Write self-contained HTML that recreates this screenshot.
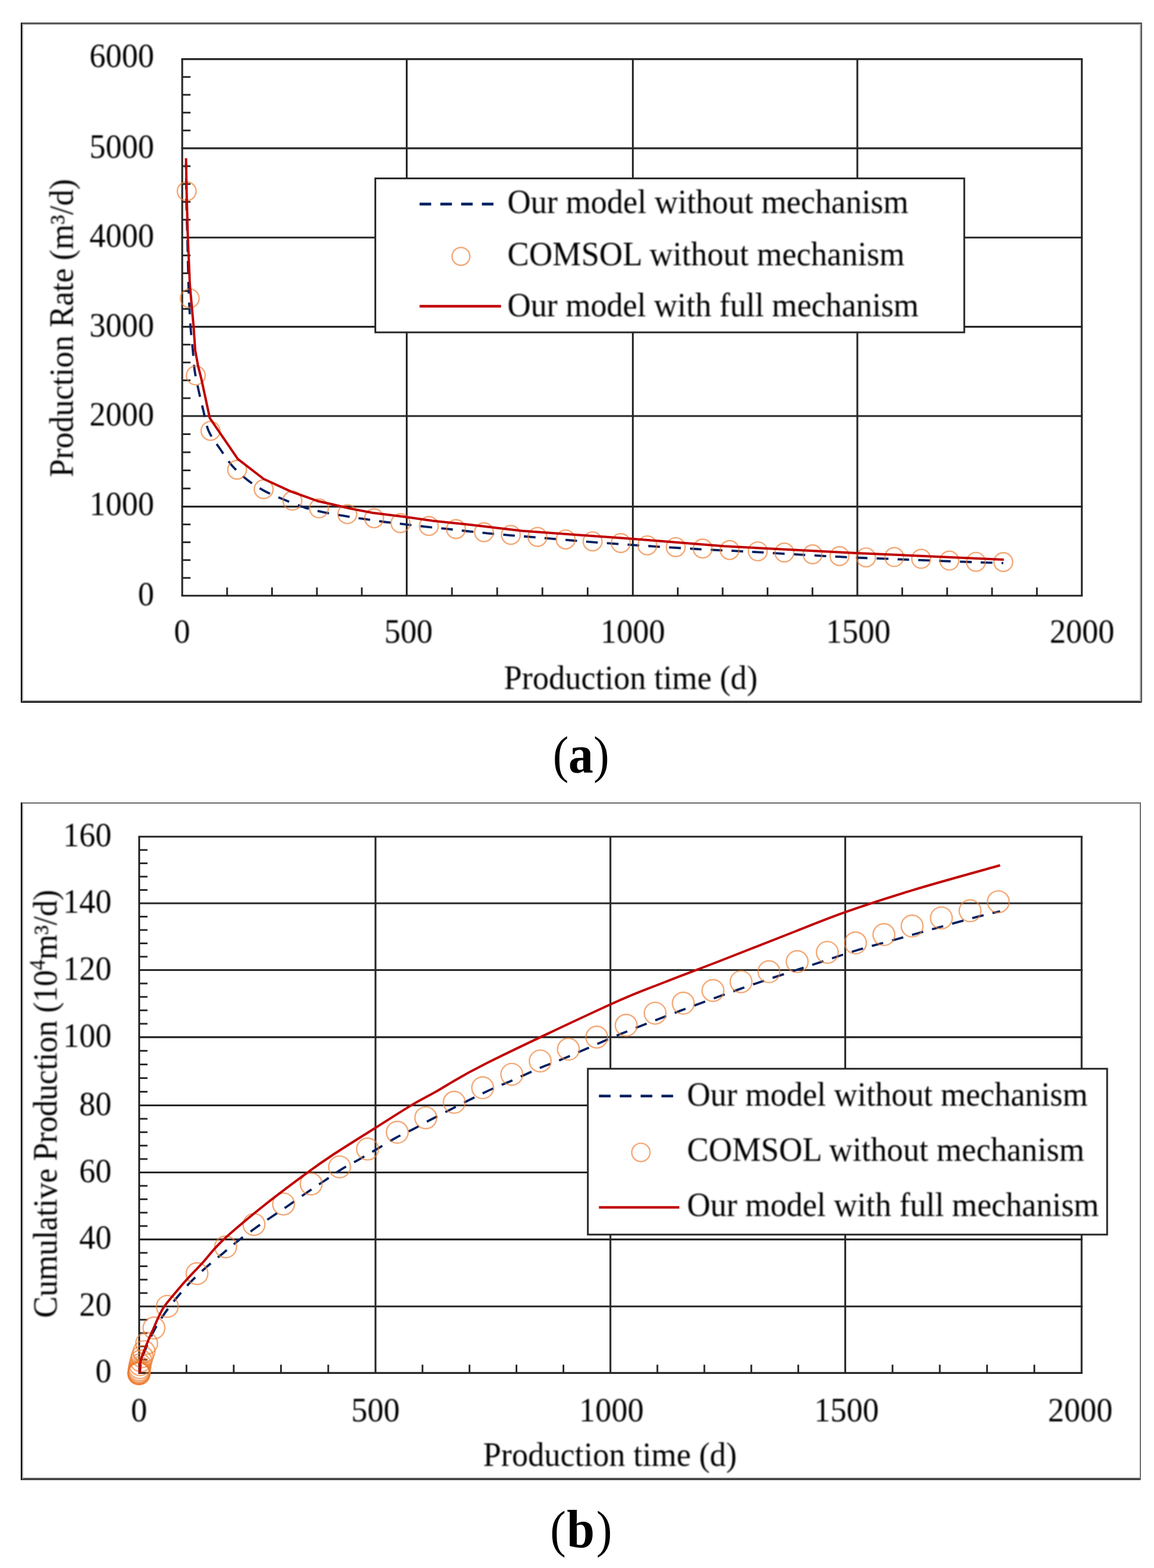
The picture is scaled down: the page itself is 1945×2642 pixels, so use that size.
<!DOCTYPE html>
<html lang="en"><head><meta charset="utf-8"><title>Production rate and cumulative production</title>
<style>
html,body{margin:0;padding:0;background:#fff;}
body{width:1945px;height:2642px;overflow:hidden;}
svg{display:block;}
text{font-family:"Liberation Serif", "DejaVu Serif", serif;fill:#000;}
</style></head><body>
<svg width="1945" height="2642" viewBox="0 0 1945 2642">
<rect width="1945" height="2642" fill="#fff"/>
<defs><filter id="soft" filterUnits="userSpaceOnUse" x="0" y="0" width="1945" height="2642"><feGaussianBlur stdDeviation="0.9"/></filter></defs>
<g>
<rect x="35" y="38" width="1890" height="2" fill="#3a3a3a"/>
<rect x="35" y="40" width="1890" height="2" fill="#a5a5a5"/>
<rect x="35" y="1180" width="1890" height="2" fill="#888"/>
<rect x="35" y="1182" width="1890" height="2" fill="#000"/>
<rect x="35" y="38" width="2" height="1146" fill="#000"/>
<rect x="37" y="40" width="2" height="1142" fill="#999"/>
<rect x="1921" y="40" width="2" height="1142" fill="#a8a8a8"/>
<rect x="1923" y="38" width="2" height="1146" fill="#555"/>
<line x1="305.55" y1="1003.80" x2="1824.85" y2="1003.80" stroke="#262626" stroke-width="3.1" />
<line x1="305.55" y1="853.60" x2="1824.85" y2="853.60" stroke="#262626" stroke-width="3.1" />
<line x1="305.55" y1="701.00" x2="1824.85" y2="701.00" stroke="#262626" stroke-width="3.1" />
<line x1="305.55" y1="550.60" x2="1824.85" y2="550.60" stroke="#262626" stroke-width="3.1" />
<line x1="305.55" y1="400.30" x2="1824.85" y2="400.30" stroke="#262626" stroke-width="3.1" />
<line x1="305.55" y1="249.90" x2="1824.85" y2="249.90" stroke="#262626" stroke-width="3.1" />
<line x1="305.55" y1="99.65" x2="1824.85" y2="99.65" stroke="#262626" stroke-width="3.1" />
<line x1="307.10" y1="99.65" x2="307.10" y2="1003.80" stroke="#262626" stroke-width="3.1" />
<line x1="685.50" y1="99.65" x2="685.50" y2="1003.80" stroke="#262626" stroke-width="3.1" />
<line x1="1066.65" y1="99.65" x2="1066.65" y2="1003.80" stroke="#262626" stroke-width="3.1" />
<line x1="1445.00" y1="99.65" x2="1445.00" y2="1003.80" stroke="#262626" stroke-width="3.1" />
<line x1="1823.30" y1="99.65" x2="1823.30" y2="1003.80" stroke="#262626" stroke-width="3.1" />
<line x1="307.10" y1="973.76" x2="321.10" y2="973.76" stroke="#262626" stroke-width="2.9" />
<line x1="307.10" y1="943.72" x2="321.10" y2="943.72" stroke="#262626" stroke-width="2.9" />
<line x1="307.10" y1="913.68" x2="321.10" y2="913.68" stroke="#262626" stroke-width="2.9" />
<line x1="307.10" y1="883.64" x2="321.10" y2="883.64" stroke="#262626" stroke-width="2.9" />
<line x1="307.10" y1="823.08" x2="321.10" y2="823.08" stroke="#262626" stroke-width="2.9" />
<line x1="307.10" y1="792.56" x2="321.10" y2="792.56" stroke="#262626" stroke-width="2.9" />
<line x1="307.10" y1="762.04" x2="321.10" y2="762.04" stroke="#262626" stroke-width="2.9" />
<line x1="307.10" y1="731.52" x2="321.10" y2="731.52" stroke="#262626" stroke-width="2.9" />
<line x1="307.10" y1="670.92" x2="321.10" y2="670.92" stroke="#262626" stroke-width="2.9" />
<line x1="307.10" y1="640.84" x2="321.10" y2="640.84" stroke="#262626" stroke-width="2.9" />
<line x1="307.10" y1="610.76" x2="321.10" y2="610.76" stroke="#262626" stroke-width="2.9" />
<line x1="307.10" y1="580.68" x2="321.10" y2="580.68" stroke="#262626" stroke-width="2.9" />
<line x1="307.10" y1="520.54" x2="321.10" y2="520.54" stroke="#262626" stroke-width="2.9" />
<line x1="307.10" y1="490.48" x2="321.10" y2="490.48" stroke="#262626" stroke-width="2.9" />
<line x1="307.10" y1="460.42" x2="321.10" y2="460.42" stroke="#262626" stroke-width="2.9" />
<line x1="307.10" y1="430.36" x2="321.10" y2="430.36" stroke="#262626" stroke-width="2.9" />
<line x1="307.10" y1="370.22" x2="321.10" y2="370.22" stroke="#262626" stroke-width="2.9" />
<line x1="307.10" y1="340.14" x2="321.10" y2="340.14" stroke="#262626" stroke-width="2.9" />
<line x1="307.10" y1="310.06" x2="321.10" y2="310.06" stroke="#262626" stroke-width="2.9" />
<line x1="307.10" y1="279.98" x2="321.10" y2="279.98" stroke="#262626" stroke-width="2.9" />
<line x1="307.10" y1="219.85" x2="321.10" y2="219.85" stroke="#262626" stroke-width="2.9" />
<line x1="307.10" y1="189.80" x2="321.10" y2="189.80" stroke="#262626" stroke-width="2.9" />
<line x1="307.10" y1="159.75" x2="321.10" y2="159.75" stroke="#262626" stroke-width="2.9" />
<line x1="307.10" y1="129.70" x2="321.10" y2="129.70" stroke="#262626" stroke-width="2.9" />
<line x1="382.78" y1="1003.80" x2="382.78" y2="989.80" stroke="#262626" stroke-width="2.9" />
<line x1="458.46" y1="1003.80" x2="458.46" y2="989.80" stroke="#262626" stroke-width="2.9" />
<line x1="534.14" y1="1003.80" x2="534.14" y2="989.80" stroke="#262626" stroke-width="2.9" />
<line x1="609.82" y1="1003.80" x2="609.82" y2="989.80" stroke="#262626" stroke-width="2.9" />
<line x1="761.73" y1="1003.80" x2="761.73" y2="989.80" stroke="#262626" stroke-width="2.9" />
<line x1="837.96" y1="1003.80" x2="837.96" y2="989.80" stroke="#262626" stroke-width="2.9" />
<line x1="914.19" y1="1003.80" x2="914.19" y2="989.80" stroke="#262626" stroke-width="2.9" />
<line x1="990.42" y1="1003.80" x2="990.42" y2="989.80" stroke="#262626" stroke-width="2.9" />
<line x1="1142.32" y1="1003.80" x2="1142.32" y2="989.80" stroke="#262626" stroke-width="2.9" />
<line x1="1217.99" y1="1003.80" x2="1217.99" y2="989.80" stroke="#262626" stroke-width="2.9" />
<line x1="1293.66" y1="1003.80" x2="1293.66" y2="989.80" stroke="#262626" stroke-width="2.9" />
<line x1="1369.33" y1="1003.80" x2="1369.33" y2="989.80" stroke="#262626" stroke-width="2.9" />
<line x1="1520.66" y1="1003.80" x2="1520.66" y2="989.80" stroke="#262626" stroke-width="2.9" />
<line x1="1596.32" y1="1003.80" x2="1596.32" y2="989.80" stroke="#262626" stroke-width="2.9" />
<line x1="1671.98" y1="1003.80" x2="1671.98" y2="989.80" stroke="#262626" stroke-width="2.9" />
<line x1="1747.64" y1="1003.80" x2="1747.64" y2="989.80" stroke="#262626" stroke-width="2.9" />
<path d="M313.5,275.0 C313.6,286.1 313.9,323.3 314.2,341.7 C314.5,360.1 315.0,370.0 315.4,385.3 C315.8,400.6 316.2,417.6 316.6,433.7 C317.0,449.8 317.4,468.7 317.8,482.0 C318.2,495.3 318.4,501.5 319.0,513.6 C319.6,525.7 320.5,541.9 321.5,554.8 C322.5,567.7 324.0,579.4 325.1,591.0 C326.2,602.6 326.4,612.9 328.1,624.5 C329.8,636.1 333.0,649.6 335.4,660.8 C337.8,672.0 340.0,680.8 342.7,691.7 C345.4,702.6 347.0,715.5 351.7,726.2 C356.4,737.0 364.1,746.4 370.8,756.2 C377.5,766.0 384.0,776.4 391.7,785.2 C399.4,794.0 408.2,801.8 417.1,808.8 C426.0,815.8 435.2,821.5 445.3,827.0 C455.4,832.5 466.5,836.8 477.9,841.5 C489.2,846.2 502.3,851.6 513.4,855.1 C524.5,858.6 533.2,860.4 544.2,862.8 C555.2,865.1 568.1,867.3 579.6,869.2 C591.1,871.1 602.0,872.7 613.5,874.4 C625.0,876.1 636.8,878.0 648.5,879.5 C660.2,881.0 671.8,882.2 683.5,883.6 C695.2,885.0 706.8,886.3 718.5,887.6 C730.2,888.9 742.0,890.0 753.5,891.2 C765.0,892.4 775.9,893.8 787.4,895.0 C798.9,896.2 810.6,897.5 822.4,898.6 C834.2,899.7 846.6,900.8 858.4,901.8 C870.2,902.8 876.0,903.1 893.4,904.6 C910.8,906.1 939.4,908.6 962.5,910.5 C985.6,912.4 1008.9,914.2 1032.1,915.9 C1055.3,917.6 1078.2,919.1 1101.7,920.6 C1125.2,922.1 1150.3,923.7 1172.8,925.0 C1195.2,926.3 1219.0,927.3 1236.4,928.2 C1253.8,929.1 1259.1,929.4 1277.2,930.4 C1295.3,931.4 1322.3,933.1 1345.3,934.4 C1368.2,935.7 1396.8,937.3 1414.9,938.2 C1433.1,939.1 1436.6,939.3 1454.2,940.0 C1471.8,940.7 1498.1,941.7 1520.8,942.6 C1543.5,943.5 1567.2,944.4 1590.4,945.3 C1613.6,946.2 1643.2,947.2 1660.0,947.8 C1676.8,948.3 1685.8,948.5 1691.0,948.6" fill="none" stroke="#002060" stroke-width="3.8" stroke-linejoin="round" stroke-dasharray="19.7 15.35" stroke-dashoffset="10.4"/>
<circle cx="314.7" cy="322.3" r="15.8" fill="none" stroke="#ed7d31" stroke-opacity="0.66" stroke-width="2.4"/>
<circle cx="319.8" cy="502.7" r="15.8" fill="none" stroke="#ed7d31" stroke-opacity="0.66" stroke-width="2.4"/>
<circle cx="330.0" cy="632.6" r="15.8" fill="none" stroke="#ed7d31" stroke-opacity="0.66" stroke-width="2.4"/>
<circle cx="354.8" cy="725.9" r="15.8" fill="none" stroke="#ed7d31" stroke-opacity="0.66" stroke-width="2.4"/>
<circle cx="399.6" cy="791.5" r="15.8" fill="none" stroke="#ed7d31" stroke-opacity="0.66" stroke-width="2.4"/>
<circle cx="444.4" cy="824.2" r="15.8" fill="none" stroke="#ed7d31" stroke-opacity="0.66" stroke-width="2.4"/>
<circle cx="492.8" cy="843.6" r="15.8" fill="none" stroke="#ed7d31" stroke-opacity="0.66" stroke-width="2.4"/>
<circle cx="537.6" cy="856.6" r="15.8" fill="none" stroke="#ed7d31" stroke-opacity="0.66" stroke-width="2.4"/>
<circle cx="585.4" cy="866.3" r="15.8" fill="none" stroke="#ed7d31" stroke-opacity="0.66" stroke-width="2.4"/>
<circle cx="630.5" cy="873.3" r="15.8" fill="none" stroke="#ed7d31" stroke-opacity="0.66" stroke-width="2.4"/>
<circle cx="675.0" cy="881.4" r="15.8" fill="none" stroke="#ed7d31" stroke-opacity="0.66" stroke-width="2.4"/>
<circle cx="722.8" cy="886.3" r="15.8" fill="none" stroke="#ed7d31" stroke-opacity="0.66" stroke-width="2.4"/>
<circle cx="768.5" cy="891.5" r="15.8" fill="none" stroke="#ed7d31" stroke-opacity="0.66" stroke-width="2.4"/>
<circle cx="815.7" cy="896.8" r="15.8" fill="none" stroke="#ed7d31" stroke-opacity="0.66" stroke-width="2.4"/>
<circle cx="861.0" cy="901.3" r="15.8" fill="none" stroke="#ed7d31" stroke-opacity="0.66" stroke-width="2.4"/>
<circle cx="905.9" cy="904.7" r="15.8" fill="none" stroke="#ed7d31" stroke-opacity="0.66" stroke-width="2.4"/>
<circle cx="953.4" cy="908.9" r="15.8" fill="none" stroke="#ed7d31" stroke-opacity="0.66" stroke-width="2.4"/>
<circle cx="998.8" cy="912.2" r="15.8" fill="none" stroke="#ed7d31" stroke-opacity="0.66" stroke-width="2.4"/>
<circle cx="1046.3" cy="915.0" r="15.8" fill="none" stroke="#ed7d31" stroke-opacity="0.66" stroke-width="2.4"/>
<circle cx="1091.0" cy="918.9" r="15.8" fill="none" stroke="#ed7d31" stroke-opacity="0.66" stroke-width="2.4"/>
<circle cx="1138.9" cy="921.9" r="15.8" fill="none" stroke="#ed7d31" stroke-opacity="0.66" stroke-width="2.4"/>
<circle cx="1184.3" cy="924.3" r="15.8" fill="none" stroke="#ed7d31" stroke-opacity="0.66" stroke-width="2.4"/>
<circle cx="1229.7" cy="926.8" r="15.8" fill="none" stroke="#ed7d31" stroke-opacity="0.66" stroke-width="2.4"/>
<circle cx="1277.2" cy="928.9" r="15.8" fill="none" stroke="#ed7d31" stroke-opacity="0.66" stroke-width="2.4"/>
<circle cx="1322.0" cy="931.0" r="15.8" fill="none" stroke="#ed7d31" stroke-opacity="0.66" stroke-width="2.4"/>
<circle cx="1369.5" cy="934.0" r="15.8" fill="none" stroke="#ed7d31" stroke-opacity="0.66" stroke-width="2.4"/>
<circle cx="1414.9" cy="937.0" r="15.8" fill="none" stroke="#ed7d31" stroke-opacity="0.66" stroke-width="2.4"/>
<circle cx="1459.7" cy="939.2" r="15.8" fill="none" stroke="#ed7d31" stroke-opacity="0.66" stroke-width="2.4"/>
<circle cx="1507.2" cy="938.6" r="15.8" fill="none" stroke="#ed7d31" stroke-opacity="0.66" stroke-width="2.4"/>
<circle cx="1552.6" cy="941.6" r="15.8" fill="none" stroke="#ed7d31" stroke-opacity="0.66" stroke-width="2.4"/>
<circle cx="1600.1" cy="944.6" r="15.8" fill="none" stroke="#ed7d31" stroke-opacity="0.66" stroke-width="2.4"/>
<circle cx="1644.9" cy="946.7" r="15.8" fill="none" stroke="#ed7d31" stroke-opacity="0.66" stroke-width="2.4"/>
<circle cx="1691.0" cy="947.0" r="15.8" fill="none" stroke="#ed7d31" stroke-opacity="0.66" stroke-width="2.4"/>
<polyline points="313.5,266.6 314.7,330.0 316.6,399.8 320.0,480.0 326.3,550.0 329.0,590.0 333.6,615.4 339.6,639.5 353.6,704.4 400.8,773.4 444.4,807.0 489.7,827.9 535.1,844.2 560.0,849.7 590.0,856.9 629.0,864.2 685.5,871.3 729.0,877.6 786.4,883.6 880.0,894.5 1066.9,908.0 1220.0,920.3 1444.6,931.9 1691.8,943.1" fill="none" stroke="#c00000" stroke-width="4.0" stroke-linejoin="round" />
<rect x="632.6" y="300.6" width="992.6" height="259.4" fill="#fff" stroke="#262626" stroke-width="3"/>
<line x1="707.20" y1="343.90" x2="832.50" y2="343.90" stroke="#002060" stroke-width="4.6" stroke-dasharray="19.5 15.5"/>
<circle cx="776.9" cy="432.0" r="15.0" fill="none" stroke="#ed7d31" stroke-opacity="0.66" stroke-width="2.4"/>
<line x1="707.20" y1="516.00" x2="844.40" y2="516.00" stroke="#c00000" stroke-width="4.4" />
<rect x="35" y="1352" width="1888" height="2" fill="#666"/>
<rect x="35" y="2490" width="1888" height="2" fill="#595959"/>
<rect x="35" y="2492" width="1888" height="2" fill="#404040"/>
<rect x="35" y="1352" width="2" height="1142" fill="#000"/>
<rect x="37" y="1354" width="2" height="1138" fill="#999"/>
<rect x="1921" y="1352" width="2" height="1142" fill="#6a6a6a"/>
<line x1="233.05" y1="2313.40" x2="1824.55" y2="2313.40" stroke="#262626" stroke-width="3.1" />
<line x1="233.05" y1="2201.30" x2="1824.55" y2="2201.30" stroke="#262626" stroke-width="3.1" />
<line x1="233.05" y1="2088.40" x2="1824.55" y2="2088.40" stroke="#262626" stroke-width="3.1" />
<line x1="233.05" y1="1975.50" x2="1824.55" y2="1975.50" stroke="#262626" stroke-width="3.1" />
<line x1="233.05" y1="1862.50" x2="1824.55" y2="1862.50" stroke="#262626" stroke-width="3.1" />
<line x1="233.05" y1="1747.60" x2="1824.55" y2="1747.60" stroke="#262626" stroke-width="3.1" />
<line x1="233.05" y1="1634.50" x2="1824.55" y2="1634.50" stroke="#262626" stroke-width="3.1" />
<line x1="233.05" y1="1522.00" x2="1824.55" y2="1522.00" stroke="#262626" stroke-width="3.1" />
<line x1="233.05" y1="1409.70" x2="1824.55" y2="1409.70" stroke="#262626" stroke-width="3.1" />
<line x1="234.60" y1="1409.70" x2="234.60" y2="2313.40" stroke="#262626" stroke-width="3.1" />
<line x1="632.90" y1="1409.70" x2="632.90" y2="2313.40" stroke="#262626" stroke-width="3.1" />
<line x1="1028.80" y1="1409.70" x2="1028.80" y2="2313.40" stroke="#262626" stroke-width="3.1" />
<line x1="1424.60" y1="1409.70" x2="1424.60" y2="2313.40" stroke="#262626" stroke-width="3.1" />
<line x1="1823.00" y1="1409.70" x2="1823.00" y2="2313.40" stroke="#262626" stroke-width="3.1" />
<line x1="234.60" y1="2290.98" x2="248.60" y2="2290.98" stroke="#262626" stroke-width="2.9" />
<line x1="234.60" y1="2268.56" x2="248.60" y2="2268.56" stroke="#262626" stroke-width="2.9" />
<line x1="234.60" y1="2246.14" x2="248.60" y2="2246.14" stroke="#262626" stroke-width="2.9" />
<line x1="234.60" y1="2223.72" x2="248.60" y2="2223.72" stroke="#262626" stroke-width="2.9" />
<line x1="234.60" y1="2178.72" x2="248.60" y2="2178.72" stroke="#262626" stroke-width="2.9" />
<line x1="234.60" y1="2156.14" x2="248.60" y2="2156.14" stroke="#262626" stroke-width="2.9" />
<line x1="234.60" y1="2133.56" x2="248.60" y2="2133.56" stroke="#262626" stroke-width="2.9" />
<line x1="234.60" y1="2110.98" x2="248.60" y2="2110.98" stroke="#262626" stroke-width="2.9" />
<line x1="234.60" y1="2065.82" x2="248.60" y2="2065.82" stroke="#262626" stroke-width="2.9" />
<line x1="234.60" y1="2043.24" x2="248.60" y2="2043.24" stroke="#262626" stroke-width="2.9" />
<line x1="234.60" y1="2020.66" x2="248.60" y2="2020.66" stroke="#262626" stroke-width="2.9" />
<line x1="234.60" y1="1998.08" x2="248.60" y2="1998.08" stroke="#262626" stroke-width="2.9" />
<line x1="234.60" y1="1952.90" x2="248.60" y2="1952.90" stroke="#262626" stroke-width="2.9" />
<line x1="234.60" y1="1930.30" x2="248.60" y2="1930.30" stroke="#262626" stroke-width="2.9" />
<line x1="234.60" y1="1907.70" x2="248.60" y2="1907.70" stroke="#262626" stroke-width="2.9" />
<line x1="234.60" y1="1885.10" x2="248.60" y2="1885.10" stroke="#262626" stroke-width="2.9" />
<line x1="234.60" y1="1839.52" x2="248.60" y2="1839.52" stroke="#262626" stroke-width="2.9" />
<line x1="234.60" y1="1816.54" x2="248.60" y2="1816.54" stroke="#262626" stroke-width="2.9" />
<line x1="234.60" y1="1793.56" x2="248.60" y2="1793.56" stroke="#262626" stroke-width="2.9" />
<line x1="234.60" y1="1770.58" x2="248.60" y2="1770.58" stroke="#262626" stroke-width="2.9" />
<line x1="234.60" y1="1724.98" x2="248.60" y2="1724.98" stroke="#262626" stroke-width="2.9" />
<line x1="234.60" y1="1702.36" x2="248.60" y2="1702.36" stroke="#262626" stroke-width="2.9" />
<line x1="234.60" y1="1679.74" x2="248.60" y2="1679.74" stroke="#262626" stroke-width="2.9" />
<line x1="234.60" y1="1657.12" x2="248.60" y2="1657.12" stroke="#262626" stroke-width="2.9" />
<line x1="234.60" y1="1612.00" x2="248.60" y2="1612.00" stroke="#262626" stroke-width="2.9" />
<line x1="234.60" y1="1589.50" x2="248.60" y2="1589.50" stroke="#262626" stroke-width="2.9" />
<line x1="234.60" y1="1567.00" x2="248.60" y2="1567.00" stroke="#262626" stroke-width="2.9" />
<line x1="234.60" y1="1544.50" x2="248.60" y2="1544.50" stroke="#262626" stroke-width="2.9" />
<line x1="234.60" y1="1499.54" x2="248.60" y2="1499.54" stroke="#262626" stroke-width="2.9" />
<line x1="234.60" y1="1477.08" x2="248.60" y2="1477.08" stroke="#262626" stroke-width="2.9" />
<line x1="234.60" y1="1454.62" x2="248.60" y2="1454.62" stroke="#262626" stroke-width="2.9" />
<line x1="234.60" y1="1432.16" x2="248.60" y2="1432.16" stroke="#262626" stroke-width="2.9" />
<line x1="314.26" y1="2313.40" x2="314.26" y2="2299.40" stroke="#262626" stroke-width="2.9" />
<line x1="393.92" y1="2313.40" x2="393.92" y2="2299.40" stroke="#262626" stroke-width="2.9" />
<line x1="473.58" y1="2313.40" x2="473.58" y2="2299.40" stroke="#262626" stroke-width="2.9" />
<line x1="553.24" y1="2313.40" x2="553.24" y2="2299.40" stroke="#262626" stroke-width="2.9" />
<line x1="712.08" y1="2313.40" x2="712.08" y2="2299.40" stroke="#262626" stroke-width="2.9" />
<line x1="791.26" y1="2313.40" x2="791.26" y2="2299.40" stroke="#262626" stroke-width="2.9" />
<line x1="870.44" y1="2313.40" x2="870.44" y2="2299.40" stroke="#262626" stroke-width="2.9" />
<line x1="949.62" y1="2313.40" x2="949.62" y2="2299.40" stroke="#262626" stroke-width="2.9" />
<line x1="1107.96" y1="2313.40" x2="1107.96" y2="2299.40" stroke="#262626" stroke-width="2.9" />
<line x1="1187.12" y1="2313.40" x2="1187.12" y2="2299.40" stroke="#262626" stroke-width="2.9" />
<line x1="1266.28" y1="2313.40" x2="1266.28" y2="2299.40" stroke="#262626" stroke-width="2.9" />
<line x1="1345.44" y1="2313.40" x2="1345.44" y2="2299.40" stroke="#262626" stroke-width="2.9" />
<line x1="1504.28" y1="2313.40" x2="1504.28" y2="2299.40" stroke="#262626" stroke-width="2.9" />
<line x1="1583.96" y1="2313.40" x2="1583.96" y2="2299.40" stroke="#262626" stroke-width="2.9" />
<line x1="1663.64" y1="2313.40" x2="1663.64" y2="2299.40" stroke="#262626" stroke-width="2.9" />
<line x1="1743.32" y1="2313.40" x2="1743.32" y2="2299.40" stroke="#262626" stroke-width="2.9" />
<path d="M235.8,2314.4 C236.1,2311.4 236.2,2302.4 237.5,2296.3 C238.8,2290.2 239.8,2286.8 243.5,2277.6 C247.2,2268.4 254.2,2252.1 259.9,2241.3 C265.6,2230.5 271.3,2221.9 277.8,2212.6 C284.3,2203.3 291.7,2194.1 299.0,2185.3 C306.3,2176.5 313.6,2167.9 321.7,2159.6 C329.8,2151.3 338.6,2143.2 347.4,2135.4 C356.2,2127.6 365.8,2120.0 374.6,2112.7 C383.4,2105.4 391.0,2098.8 400.3,2091.5 C409.6,2084.2 421.4,2075.7 430.7,2069.0 C440.0,2062.3 446.9,2057.7 456.0,2051.5 C465.1,2045.3 474.7,2039.1 485.0,2032.0 C495.3,2024.9 507.5,2016.1 517.8,2009.0 C528.1,2001.9 537.4,1995.9 546.9,1989.5 C556.4,1983.1 564.9,1976.8 574.5,1970.8 C584.1,1964.8 594.5,1959.7 604.8,1953.8 C615.1,1947.9 626.0,1941.6 636.3,1935.6 C646.6,1929.5 656.2,1923.2 666.5,1917.5 C676.8,1911.8 687.9,1907.0 698.0,1901.7 C708.1,1896.5 707.9,1895.9 727.1,1886.0 C746.4,1876.1 790.9,1853.1 813.5,1842.2 C836.1,1831.3 846.4,1827.9 862.6,1820.7 C878.8,1813.5 895.8,1805.5 910.5,1799.3 C925.2,1793.1 928.2,1792.8 950.9,1783.3 C973.6,1773.8 1014.0,1755.4 1046.5,1742.1 C1079.0,1728.8 1112.7,1715.9 1145.8,1703.4 C1178.9,1690.9 1217.2,1677.0 1245.1,1667.1 C1272.9,1657.2 1290.7,1651.5 1312.9,1644.1 C1335.1,1636.7 1356.1,1630.0 1378.1,1622.8 C1400.1,1615.6 1422.2,1607.8 1444.7,1601.0 C1467.2,1594.2 1490.6,1588.3 1513.1,1582.0 C1535.6,1575.7 1557.2,1569.5 1579.7,1563.3 C1602.2,1557.1 1630.2,1549.2 1647.8,1544.6 C1665.4,1540.0 1679.3,1537.0 1685.6,1535.5" fill="none" stroke="#002060" stroke-width="3.8" stroke-linejoin="round" stroke-dasharray="19.7 15.4" stroke-dashoffset="4.35"/>
<circle cx="234.1" cy="2314.6" r="18.3" fill="none" stroke="#ed7d31" stroke-opacity="0.66" stroke-width="2.4"/>
<circle cx="234.1" cy="2314.4" r="18.3" fill="none" stroke="#ed7d31" stroke-opacity="0.66" stroke-width="2.4"/>
<circle cx="234.2" cy="2314.0" r="18.3" fill="none" stroke="#ed7d31" stroke-opacity="0.66" stroke-width="2.4"/>
<circle cx="234.2" cy="2313.3" r="18.3" fill="none" stroke="#ed7d31" stroke-opacity="0.66" stroke-width="2.4"/>
<circle cx="234.3" cy="2312.2" r="18.3" fill="none" stroke="#ed7d31" stroke-opacity="0.66" stroke-width="2.4"/>
<circle cx="234.5" cy="2310.5" r="18.3" fill="none" stroke="#ed7d31" stroke-opacity="0.66" stroke-width="2.4"/>
<circle cx="234.8" cy="2308.0" r="18.3" fill="none" stroke="#ed7d31" stroke-opacity="0.66" stroke-width="2.4"/>
<circle cx="235.3" cy="2304.5" r="18.3" fill="none" stroke="#ed7d31" stroke-opacity="0.66" stroke-width="2.4"/>
<circle cx="236.2" cy="2299.5" r="18.3" fill="none" stroke="#ed7d31" stroke-opacity="0.66" stroke-width="2.4"/>
<circle cx="237.6" cy="2293.0" r="18.3" fill="none" stroke="#ed7d31" stroke-opacity="0.66" stroke-width="2.4"/>
<circle cx="239.6" cy="2286.0" r="18.3" fill="none" stroke="#ed7d31" stroke-opacity="0.66" stroke-width="2.4"/>
<circle cx="242.8" cy="2277.4" r="18.3" fill="none" stroke="#ed7d31" stroke-opacity="0.66" stroke-width="2.4"/>
<circle cx="247.2" cy="2263.6" r="18.3" fill="none" stroke="#ed7d31" stroke-opacity="0.66" stroke-width="2.4"/>
<circle cx="259.5" cy="2237.6" r="18.3" fill="none" stroke="#ed7d31" stroke-opacity="0.66" stroke-width="2.4"/>
<circle cx="282.0" cy="2201.2" r="18.3" fill="none" stroke="#ed7d31" stroke-opacity="0.66" stroke-width="2.4"/>
<circle cx="332.0" cy="2146.0" r="18.3" fill="none" stroke="#ed7d31" stroke-opacity="0.66" stroke-width="2.4"/>
<circle cx="380.3" cy="2101.0" r="18.3" fill="none" stroke="#ed7d31" stroke-opacity="0.66" stroke-width="2.4"/>
<circle cx="428.1" cy="2063.2" r="18.3" fill="none" stroke="#ed7d31" stroke-opacity="0.66" stroke-width="2.4"/>
<circle cx="477.9" cy="2028.7" r="18.3" fill="none" stroke="#ed7d31" stroke-opacity="0.66" stroke-width="2.4"/>
<circle cx="524.4" cy="1994.9" r="18.3" fill="none" stroke="#ed7d31" stroke-opacity="0.66" stroke-width="2.4"/>
<circle cx="572.3" cy="1966.2" r="18.3" fill="none" stroke="#ed7d31" stroke-opacity="0.66" stroke-width="2.4"/>
<circle cx="619.5" cy="1936.1" r="18.3" fill="none" stroke="#ed7d31" stroke-opacity="0.66" stroke-width="2.4"/>
<circle cx="669.6" cy="1907.8" r="18.3" fill="none" stroke="#ed7d31" stroke-opacity="0.66" stroke-width="2.4"/>
<circle cx="717.6" cy="1883.4" r="18.3" fill="none" stroke="#ed7d31" stroke-opacity="0.66" stroke-width="2.4"/>
<circle cx="765.5" cy="1857.3" r="18.3" fill="none" stroke="#ed7d31" stroke-opacity="0.66" stroke-width="2.4"/>
<circle cx="813.5" cy="1832.8" r="18.3" fill="none" stroke="#ed7d31" stroke-opacity="0.66" stroke-width="2.4"/>
<circle cx="862.6" cy="1810.2" r="18.3" fill="none" stroke="#ed7d31" stroke-opacity="0.66" stroke-width="2.4"/>
<circle cx="910.5" cy="1787.7" r="18.3" fill="none" stroke="#ed7d31" stroke-opacity="0.66" stroke-width="2.4"/>
<circle cx="958.0" cy="1767.8" r="18.3" fill="none" stroke="#ed7d31" stroke-opacity="0.66" stroke-width="2.4"/>
<circle cx="1005.8" cy="1747.5" r="18.3" fill="none" stroke="#ed7d31" stroke-opacity="0.66" stroke-width="2.4"/>
<circle cx="1055.4" cy="1727.5" r="18.3" fill="none" stroke="#ed7d31" stroke-opacity="0.66" stroke-width="2.4"/>
<circle cx="1104.2" cy="1707.2" r="18.3" fill="none" stroke="#ed7d31" stroke-opacity="0.66" stroke-width="2.4"/>
<circle cx="1151.6" cy="1690.3" r="18.3" fill="none" stroke="#ed7d31" stroke-opacity="0.66" stroke-width="2.4"/>
<circle cx="1201.6" cy="1669.0" r="18.3" fill="none" stroke="#ed7d31" stroke-opacity="0.66" stroke-width="2.4"/>
<circle cx="1249.0" cy="1654.2" r="18.3" fill="none" stroke="#ed7d31" stroke-opacity="0.66" stroke-width="2.4"/>
<circle cx="1296.0" cy="1637.3" r="18.3" fill="none" stroke="#ed7d31" stroke-opacity="0.66" stroke-width="2.4"/>
<circle cx="1343.6" cy="1620.3" r="18.3" fill="none" stroke="#ed7d31" stroke-opacity="0.66" stroke-width="2.4"/>
<circle cx="1394.4" cy="1604.7" r="18.3" fill="none" stroke="#ed7d31" stroke-opacity="0.66" stroke-width="2.4"/>
<circle cx="1441.9" cy="1588.8" r="18.3" fill="none" stroke="#ed7d31" stroke-opacity="0.66" stroke-width="2.4"/>
<circle cx="1489.8" cy="1574.8" r="18.3" fill="none" stroke="#ed7d31" stroke-opacity="0.66" stroke-width="2.4"/>
<circle cx="1537.3" cy="1560.3" r="18.3" fill="none" stroke="#ed7d31" stroke-opacity="0.66" stroke-width="2.4"/>
<circle cx="1586.6" cy="1546.7" r="18.3" fill="none" stroke="#ed7d31" stroke-opacity="0.66" stroke-width="2.4"/>
<circle cx="1635.0" cy="1534.6" r="18.3" fill="none" stroke="#ed7d31" stroke-opacity="0.66" stroke-width="2.4"/>
<circle cx="1682.6" cy="1519.4" r="18.3" fill="none" stroke="#ed7d31" stroke-opacity="0.66" stroke-width="2.4"/>
<path d="M235.6,2314.4 C235.7,2311.4 235.5,2301.8 236.3,2296.3 C237.2,2290.9 238.3,2288.4 240.7,2281.7 C243.1,2275.0 247.8,2263.6 250.8,2256.3 C253.8,2249.1 256.1,2244.2 258.8,2238.2 C261.5,2232.1 263.8,2226.2 266.8,2220.0 C269.8,2213.8 272.1,2208.2 277.0,2201.2 C281.9,2194.2 289.5,2185.5 295.9,2177.8 C302.3,2170.1 308.0,2163.4 315.6,2155.1 C323.2,2146.8 331.2,2138.8 341.3,2127.8 C351.4,2116.8 358.8,2105.4 376.1,2089.3 C393.4,2073.2 421.6,2049.9 445.2,2031.0 C468.8,2012.1 498.7,1990.1 517.8,1976.0 C536.9,1961.9 540.9,1959.1 560.0,1946.5 C579.1,1933.9 610.4,1914.5 632.6,1900.5 C654.8,1886.5 676.1,1872.7 693.2,1862.4 C710.4,1852.2 714.4,1850.8 735.5,1839.0 C756.6,1827.2 771.1,1815.9 820.0,1791.5 C868.9,1767.1 978.6,1715.2 1028.6,1692.5 C1078.6,1669.8 1089.6,1667.1 1120.0,1655.0 C1150.4,1642.9 1174.5,1634.2 1211.2,1620.0 C1247.9,1605.8 1304.4,1583.3 1340.0,1569.5 C1375.6,1555.7 1391.4,1548.6 1424.7,1536.9 C1458.0,1525.2 1496.5,1512.5 1540.0,1499.3 C1583.5,1486.1 1661.3,1464.9 1685.6,1458.0" fill="none" stroke="#c00000" stroke-width="4.0" stroke-linejoin="round" />
<rect x="990.8" y="1800.8" width="875.2" height="279.4" fill="#fff" stroke="#262626" stroke-width="3"/>
<line x1="1009.50" y1="1846.70" x2="1135.10" y2="1846.70" stroke="#002060" stroke-width="4.6" stroke-dasharray="19.7 15.4"/>
<circle cx="1080.2" cy="1941.8" r="15.4" fill="none" stroke="#ed7d31" stroke-opacity="0.66" stroke-width="2.4"/>
<line x1="1009.50" y1="2034.40" x2="1145.00" y2="2034.40" stroke="#c00000" stroke-width="4.4" />
<text transform="translate(0,1301.2) scale(1,1.075)" font-size="80"><tspan x="931.8">(</tspan><tspan x="958.0" dy="0.8" font-size="84" font-weight="bold">a</tspan><tspan x="1000.2" dy="-0.8">)</tspan></text>
<text transform="translate(0,2605.7) scale(1,1.075)" font-size="80"><tspan x="927.2">(</tspan><tspan x="955.2" dy="1.2" font-size="84.5" font-weight="bold">b</tspan><tspan x="1005" dy="-1.2">)</tspan></text>
</g>
<g filter="url(#soft)">
<text transform="translate(259.70,1019.70) scale(1,1.03)" font-size="54.5" text-anchor="end" >0</text>
<text transform="translate(259.70,867.60) scale(1,1.03)" font-size="54.5" text-anchor="end" >1000</text>
<text transform="translate(259.70,716.90) scale(1,1.03)" font-size="54.5" text-anchor="end" >2000</text>
<text transform="translate(259.70,566.80) scale(1,1.03)" font-size="54.5" text-anchor="end" >3000</text>
<text transform="translate(259.70,416.30) scale(1,1.03)" font-size="54.5" text-anchor="end" >4000</text>
<text transform="translate(259.70,265.80) scale(1,1.03)" font-size="54.5" text-anchor="end" >5000</text>
<text transform="translate(259.70,113.20) scale(1,1.03)" font-size="54.5" text-anchor="end" >6000</text>
<text transform="translate(306.90,1083.20) scale(1,1.03)" font-size="54.5" text-anchor="middle" >0</text>
<text transform="translate(688.50,1083.20) scale(1,1.03)" font-size="54.5" text-anchor="middle" >500</text>
<text transform="translate(1066.60,1083.20) scale(1,1.03)" font-size="54.5" text-anchor="middle" >1000</text>
<text transform="translate(1446.50,1083.20) scale(1,1.03)" font-size="54.5" text-anchor="middle" >1500</text>
<text transform="translate(1823.70,1083.20) scale(1,1.03)" font-size="54.5" text-anchor="middle" >2000</text>
<text transform="translate(855.20,358.70) scale(1,1.03)" font-size="54.5" text-anchor="start" textLength="676.0" lengthAdjust="spacing" >Our model without mechanism</text>
<text transform="translate(855.20,446.80) scale(1,1.03)" font-size="54.5" text-anchor="start" textLength="669.5" lengthAdjust="spacing" >COMSOL without mechanism</text>
<text transform="translate(855.20,533.00) scale(1,1.03)" font-size="54.5" text-anchor="start" textLength="693.3" lengthAdjust="spacing" >Our model with full mechanism</text>
<text transform="translate(1063.00,1161.40) scale(1,1.03)" font-size="54.5" text-anchor="middle" textLength="427.6" lengthAdjust="spacing" >Production time (d)</text>
<text transform="translate(123.30,552.70) rotate(-90) scale(1,1.03)" font-size="54.5" text-anchor="middle" textLength="502.5" lengthAdjust="spacing" >Production Rate (m³/d)</text>
<text transform="translate(188.00,2329.40) scale(1,1.03)" font-size="54.5" text-anchor="end" >0</text>
<text transform="translate(188.00,2217.30) scale(1,1.03)" font-size="54.5" text-anchor="end" >20</text>
<text transform="translate(188.00,2104.40) scale(1,1.03)" font-size="54.5" text-anchor="end" >40</text>
<text transform="translate(188.00,1991.50) scale(1,1.03)" font-size="54.5" text-anchor="end" >60</text>
<text transform="translate(188.00,1878.50) scale(1,1.03)" font-size="54.5" text-anchor="end" >80</text>
<text transform="translate(188.00,1763.60) scale(1,1.03)" font-size="54.5" text-anchor="end" >100</text>
<text transform="translate(188.00,1650.50) scale(1,1.03)" font-size="54.5" text-anchor="end" >120</text>
<text transform="translate(188.00,1538.00) scale(1,1.03)" font-size="54.5" text-anchor="end" >140</text>
<text transform="translate(188.00,1425.70) scale(1,1.03)" font-size="54.5" text-anchor="end" >160</text>
<text transform="translate(234.40,2395.20) scale(1,1.03)" font-size="54.5" text-anchor="middle" >0</text>
<text transform="translate(632.90,2395.20) scale(1,1.03)" font-size="54.5" text-anchor="middle" >500</text>
<text transform="translate(1030.40,2395.20) scale(1,1.03)" font-size="54.5" text-anchor="middle" >1000</text>
<text transform="translate(1426.80,2395.20) scale(1,1.03)" font-size="54.5" text-anchor="middle" >1500</text>
<text transform="translate(1820.80,2395.20) scale(1,1.03)" font-size="54.5" text-anchor="middle" >2000</text>
<text transform="translate(1158.00,1862.50) scale(1,1.03)" font-size="54.5" text-anchor="start" textLength="675.4" lengthAdjust="spacing" >Our model without mechanism</text>
<text transform="translate(1158.00,1956.40) scale(1,1.03)" font-size="54.5" text-anchor="start" textLength="669.7" lengthAdjust="spacing" >COMSOL without mechanism</text>
<text transform="translate(1158.00,2048.60) scale(1,1.03)" font-size="54.5" text-anchor="start" textLength="694.2" lengthAdjust="spacing" >Our model with full mechanism</text>
<text transform="translate(1028.00,2470.00) scale(1,1.03)" font-size="54.5" text-anchor="middle" textLength="427.6" lengthAdjust="spacing" >Production time (d)</text>
<text transform="translate(95.00,1859.80) rotate(-90) scale(1,1.03)" font-size="54.5" text-anchor="middle" textLength="721.5" lengthAdjust="spacing" >Cumulative Production (10<tspan font-size="36" dy="-19">4</tspan><tspan dy="19">m³/d)</tspan></text>
</g></svg></body></html>
